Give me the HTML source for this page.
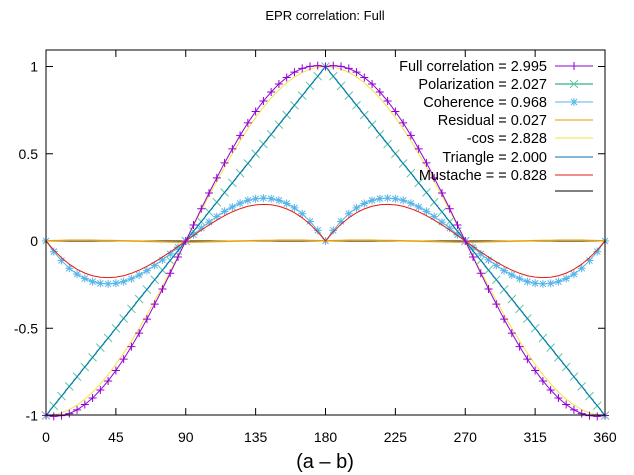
<!DOCTYPE html>
<html><head><meta charset="utf-8"><style>
body{margin:0;background:#fff}
svg{display:block;font-family:"Liberation Sans","DejaVu Sans",sans-serif}
</style></head><body>
<svg id="chart" width="634" height="475" viewBox="0 0 634 475"></svg>
<script>
const angles=[];for(let a=0;a<=360;a+=5)angles.push(a);
const xTicks=[0,45,90,135,180,225,270,315,360];
const yTicks=[1,0.5,0,-0.5,-1];
const yTickLabels=["1","0.5","0","-0.5","-1"];
const fullCorr=[-1,-1.005,-1.001,-.989,-.968,-.937,-.900,-.854,-.802,-.742,-.677,-.605,-.528,-.448,-.362,-.275,-.185,-.092,0,.092,.185,.275,.362,.448,.528,.605,.677,.742,.802,.854,.900,.937,.968,.989,1.001,1.005,1,1.005,1.001,.989,.968,.937,.900,.854,.802,.742,.677,.605,.528,.448,.362,.275,.185,.092,0,-.092,-.185,-.275,-.362,-.448,-.528,-.605,-.677,-.742,-.802,-.854,-.900,-.937,-.968,-.989,-1.001,-1.005,-1];
const polarization=[-1,-.944,-.889,-.833,-.778,-.722,-.667,-.611,-.556,-.5,-.444,-.389,-.333,-.278,-.222,-.167,-.111,-.056,0,.056,.111,.167,.222,.278,.333,.389,.444,.5,.556,.611,.667,.722,.778,.833,.889,.944,1,.944,.889,.833,.778,.722,.667,.611,.556,.5,.444,.389,.333,.278,.222,.167,.111,.056,0,-.056,-.111,-.167,-.222,-.278,-.333,-.389,-.444,-.5,-.556,-.611,-.667,-.722,-.778,-.833,-.889,-.944,-1];
const coherence=[0,-.061,-.112,-.156,-.190,-.215,-.233,-.243,-.246,-.242,-.233,-.216,-.195,-.170,-.140,-.108,-.074,-.036,0,.036,.074,.108,.140,.170,.195,.216,.233,.242,.246,.243,.233,.215,.190,.156,.112,.061,0,.061,.112,.156,.190,.215,.233,.243,.246,.242,.233,.216,.195,.170,.140,.108,.074,.036,0,-.036,-.074,-.108,-.140,-.170,-.195,-.216,-.233,-.242,-.246,-.243,-.233,-.215,-.190,-.156,-.112,-.061,0];
const negCos=[-1,-.996,-.985,-.966,-.940,-.906,-.866,-.819,-.766,-.707,-.643,-.574,-.5,-.423,-.342,-.259,-.174,-.087,0,.087,.174,.259,.342,.423,.5,.574,.643,.707,.766,.819,.866,.906,.940,.966,.985,.996,1,.996,.985,.966,.940,.906,.866,.819,.766,.707,.643,.574,.5,.423,.342,.259,.174,.087,0,-.087,-.174,-.259,-.342,-.423,-.5,-.574,-.643,-.707,-.766,-.819,-.866,-.906,-.940,-.966,-.985,-.996,-1];
const residualQuarter=[0,.002,.003,.004,.004,.004,.004,.003,.003,.002,.001,0,-.001,-.002,-.003,-.004,-.005,-.006,-.006];
const triangle=polarization.slice();
const mustache=negCos.map((v,i)=>v-triangle[i]);
const residual=angles.map(a=>{const q=a%180<=90?(a%180):(180-a%180);return residualQuarter[Math.round(q/5)];});
const legendLabels=["Full correlation = 2.995","Polarization = 2.027","Coherence = 0.968","Residual = 0.027","-cos = 2.828","Triangle = 2.000","Mustache = = 0.828",""];

const L=46,R=605,T=50,B=415;
const sx=v=>L+(v/360)*(R-L);
const sy=v=>241-(v)*(241-66.5);
const NS="http://www.w3.org/2000/svg";
const svg=document.getElementById('chart');
function mk(tag,attrs,parent){const e=document.createElementNS(NS,tag);for(const k in attrs)e.setAttribute(k,attrs[k]);(parent||svg).appendChild(e);return e;}
function txt(x,y,s,anchor,size,name){const t=mk('text',{x:x,y:y,'text-anchor':anchor,'font-size':size,fill:'#000'});t.textContent=s;


return t;}

txt(325,20,"EPR correlation: Full","middle",13,"chart-title");
txt(325,468,"(a – b)","middle",20,"x-axis-title");
const za=mk('line',{x1:L,x2:R,y1:sy(0),y2:sy(0),stroke:'#000','stroke-width':1});


xTicks.forEach((v,i)=>{
 const g=mk('g',{});
 
 
 mk('line',{x1:sx(v),x2:sx(v),y1:B,y2:B-7,stroke:'#000'},g);
 mk('line',{x1:sx(v),x2:sx(v),y1:T,y2:T+7,stroke:'#000'},g);
 txt(sx(v),442,String(v),"middle",14,'x-tick-label');
});
yTicks.forEach((v,i)=>{
 const g=mk('g',{});
 
 
 mk('line',{x1:L,x2:L+7,y1:sy(v),y2:sy(v),stroke:'#000'},g);
 mk('line',{x1:R,x2:R-7,y1:sy(v),y2:sy(v),stroke:'#000'},g);
 txt(38,sy(v)+5,yTickLabels[i],"end",14,'y-tick-label');
});

function line(data,color,name,w){
 const p=mk('polyline',{points:data.map((v,i)=>sx(angles[i])+','+sy(v)).join(' '),fill:'none',stroke:color,'stroke-width':w||1});
 
 
}
function markers(data,color,type,name){
 const g=mk('g',{stroke:color,'stroke-width':1,fill:'none'});
 
 
 data.forEach((v,i)=>{const x=sx(angles[i]),y=sy(v),s=4;let d;
  if(type==='+')d=`M${x-s} ${y}H${x+s}M${x} ${y-s}V${y+s}`;
  else if(type==='x')d=`M${x-s} ${y-s}L${x+s} ${y+s}M${x-s} ${y+s}L${x+s} ${y-s}`;
  else d=`M${x-s} ${y}H${x+s}M${x} ${y-s}V${y+s}M${x-3} ${y-3}L${x+3} ${y+3}M${x-3} ${y+3}L${x+3} ${y-3}`;
  mk('path',{d:d},g);});
}
const colors=['#9400d3','#009e73','#56b4e9','#e69f00','#f0e442','#0072b2','#e51e10','#000'];
line(polarization,colors[1],'polarization-line');markers(polarization,'#5fc8a6','x','polarization-markers');
line(coherence,colors[2],'coherence-line');markers(coherence,colors[2],'*','coherence-markers');
line(residual,colors[3],'residual-line',1.5);
line(negCos,colors[4],'neg-cos-line');
line(triangle,colors[5],'triangle-line');
line(mustache,colors[6],'mustache-line');
line(fullCorr,colors[0],'full-correlation-line');markers(fullCorr,colors[0],'+','full-correlation-markers');

const lg=mk('g',{});


const rowsY=[66,84,102,120,138,157,175,191];
legendLabels.forEach((s,i)=>{
 const g=mk('g',{},lg);
 
 
 if(s){const t=txt(547,rowsY[i]+5,s,"end",14.5,'legend-label');g.appendChild(t);}
 mk('line',{x1:555,x2:593,y1:rowsY[i],y2:rowsY[i],stroke:colors[i]},g);
 const mx=574,my=rowsY[i];
 if(i===0)mk('path',{d:`M${mx-4} ${my}H${mx+4}M${mx} ${my-4}V${my+4}`,stroke:colors[0]},g);
 if(i===1)mk('path',{d:`M${mx-4} ${my-4}L${mx+4} ${my+4}M${mx-4} ${my+4}L${mx+4} ${my-4}`,stroke:'#5fc8a6'},g);
 if(i===2)mk('path',{d:`M${mx-4} ${my}H${mx+4}M${mx} ${my-4}V${my+4}M${mx-3} ${my-3}L${mx+3} ${my+3}M${mx-3} ${my+3}L${mx+3} ${my-3}`,stroke:colors[2]},g);
});
const fr=mk('rect',{x:L,y:T,width:R-L,height:B-T,fill:'none',stroke:'#000','stroke-width':1});


</script>
</body></html>
